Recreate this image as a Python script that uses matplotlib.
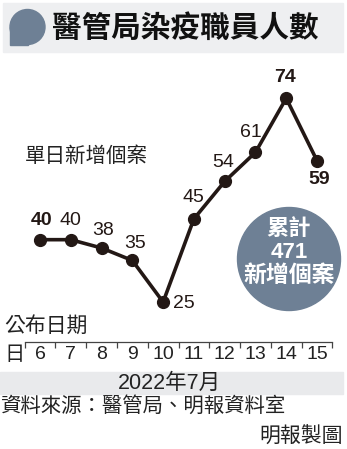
import numpy as np
import matplotlib.pyplot as plt
from matplotlib.patches import Circle, Rectangle

plt.rcParams['font.family'] = ['Liberation Sans', 'Noto Sans CJK TC', 'DejaVu Sans']

days = [6, 7, 8, 9, 10, 11, 12, 13, 14, 15]
cases = [40, 40, 38, 35, 25, 45, 54, 61, 74, 59]
bold_labels = [True, False, False, False, False, False, False, False, True, True]
total_cases = sum(cases)

title = '醫管局染疫職員人數'
series_name = '單日新增個案'
x_name = '公布日期'
month_label = '2022年7月'
source = '資料來源：醫管局、明報資料室'
credit = '明報製圖'

ink = '#231815'
slate = '#6e8095'
W, H = 347, 449


def fx(x):
    return x / W


def fy(y):
    return 1 - y / H


fig = plt.figure(figsize=(W / 100, H / 100), dpi=100)

# title band with the speech-bubble badge
fig.patches.append(Rectangle((fx(3), fy(52)), fx(340), 49 / H, transform=fig.transFigure,
                             color='#eeeff1', zorder=0))
fig.patches.append(Circle((0.275, (H - 27) / 100), 0.175, transform=fig.dpi_scale_trans,
                          color=slate, zorder=1))
fig.patches.append(Rectangle((0.10, (H - 44.5) / 100), 0.175, 0.175, transform=fig.dpi_scale_trans,
                             color=slate, zorder=1))
fig.text(fx(52), fy(28), title, fontsize=21.3, fontweight='heavy', color='#111',
         family=['Noto Sans CJK TC'], va='center', ha='left')

# main line chart
ax = fig.add_axes([fx(24.6), fy(342), fx(332.4 - 24.6), (342 - 60) / H])
ax.set_facecolor('none')
ax.set_xlim(5.5, 15.5)
ax.set_ylim(15.4, 83.2)
ax.plot(days, cases, color=ink, lw=2.6, marker='o', ms=8.5, solid_joinstyle='miter', zorder=3)

label_offsets = [(2, 19), (0, 19), (2, 18), (3, 17), (10, -1), (0, 21), (-1, 19), (-5, 20), (-1, 21), (2, -19)]
for d, v, b, (dx, dy) in zip(days, cases, bold_labels, label_offsets):
    ax.annotate(str(v), (d, v), xytext=(dx, dy), textcoords='offset pixels',
                ha='left' if dx > 5 else 'center', va='center',
                fontsize=14, fontweight='bold' if b else 'normal', color=ink)

for s in ['top', 'right', 'left']:
    ax.spines[s].set_visible(False)
ax.spines['bottom'].set_color('#444')
ax.spines['bottom'].set_linewidth(0.9)
ax.set_yticks([])
ax.set_xticks(np.arange(5.5, 16, 1))
ax.set_xticklabels([])
ax.set_xticks(days, minor=True)
ax.set_xticklabels([str(d) for d in days], minor=True)
ax.tick_params(axis='x', which='major', direction='out', length=4, width=0.9, color='#444')
ax.tick_params(axis='x', which='minor', length=0, pad=3, labelsize=14, labelcolor='#222')

fig.text(fx(25), fy(156), series_name, fontsize=14.8, color='#222', va='center', ha='left')
fig.text(fx(4), fy(326), x_name, fontsize=15, color='#222', va='center', ha='left')
fig.text(fx(4), fy(354), '日', fontsize=14.5, color='#222', va='center', ha='left')

# cumulative total badge
fig.patches.append(Circle((2.89, (H - 259) / 100), 0.515, transform=fig.dpi_scale_trans,
                          color=slate, zorder=1))
fig.text(fx(289), fy(229), '累計', fontsize=16, fontweight='bold', color='white', ha='center', va='center')
fig.text(fx(289), fy(252), str(total_cases), fontsize=16, fontweight='bold', color='white', ha='center', va='center')
fig.text(fx(289), fy(275), '新增個案', fontsize=16.5, fontweight='bold', color='white', ha='center', va='center')

# month band and footer
fig.patches.append(Rectangle((0, fy(394)), fx(343), 22 / H, transform=fig.transFigure,
                             color='#e9eaec', zorder=0))
fig.text(fx(169), fy(383), month_label, fontsize=15.5, color='#222', ha='center', va='center')
fig.text(fx(0), fy(406), source, fontsize=14.7, color='#222', ha='left', va='center')
fig.text(fx(343), fy(437), credit, fontsize=15, color='#222', ha='right', va='center')

fig.savefig('out.png', dpi=100)
